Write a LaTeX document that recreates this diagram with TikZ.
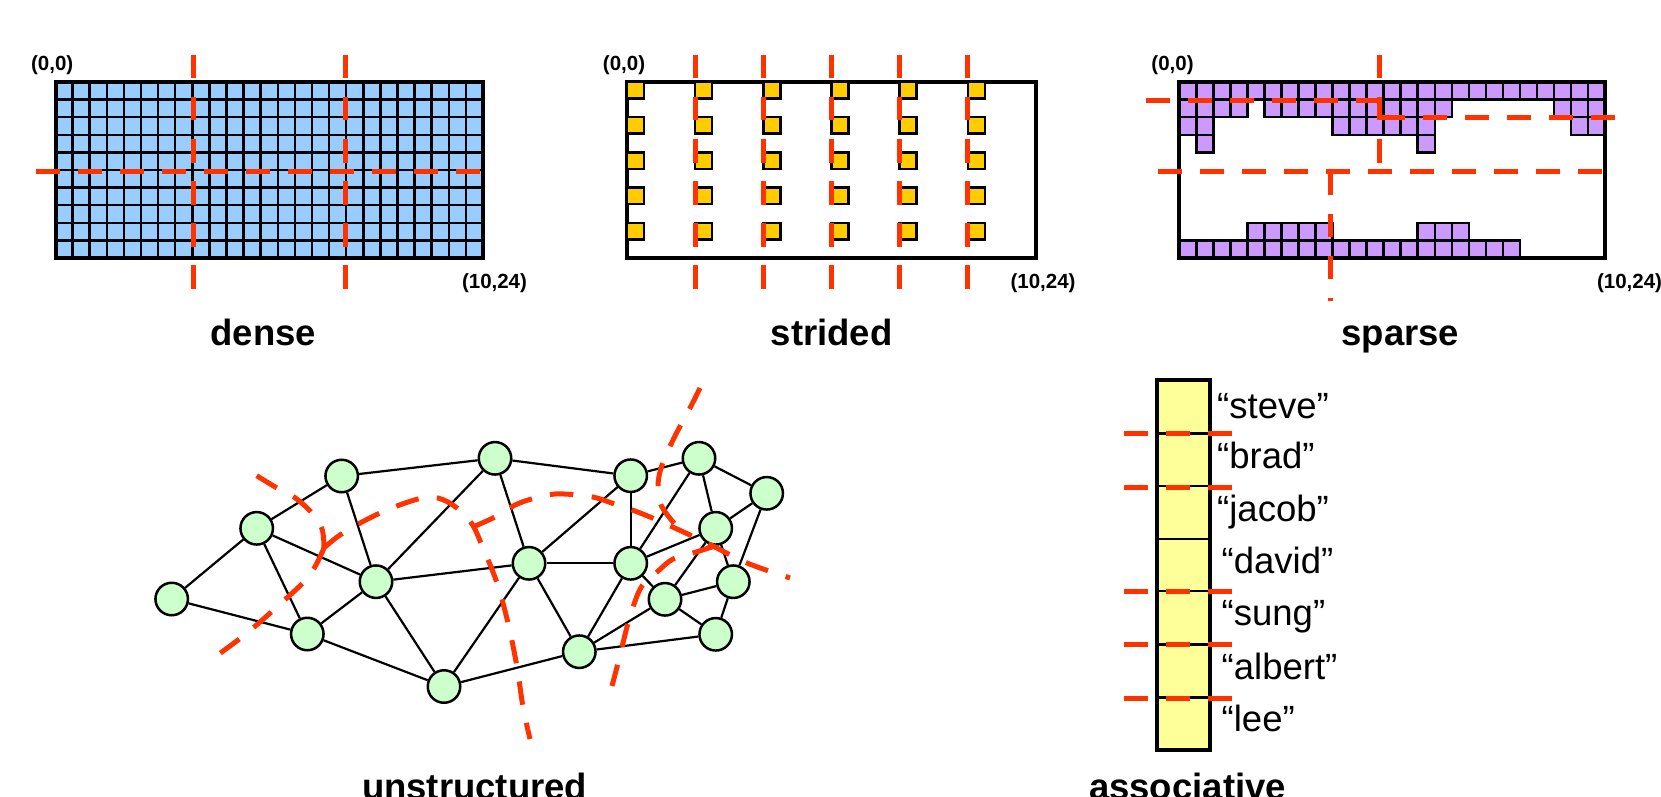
\documentclass[tikz,border=0pt]{standalone}
\usepackage{fontspec}
\setmainfont{Liberation Sans}
\definecolor{cblue}{HTML}{99CCFF}
\definecolor{cgold}{HTML}{FFCC00}
\definecolor{cpurp}{HTML}{CC99FF}
\definecolor{cgreen}{HTML}{CCFFCC}
\definecolor{cyel}{HTML}{FFFF99}
\definecolor{cred}{HTML}{FF3300}
\begin{document}
\begin{tikzpicture}[x=1pt,y=-1pt,
  gridl/.style={draw=black,line width=2.5pt},
  border/.style={draw=black,line width=4pt},
  cellb/.style={draw=black,line width=2.5pt,fill=cgold},
  rdash/.style={draw=cred,line width=5pt,dash pattern=on 23.5pt off 18.5pt},
  gnode/.style={circle,draw=black,line width=2.5pt,fill=cgreen,minimum size=32.5pt,inner sep=0pt},
  gedge/.style={draw=black,line width=2.2pt},
  ttl/.style={font=\fontsize{36.5}{40}\selectfont\bfseries,anchor=base,inner sep=0pt},
  crd/.style={font=\fontsize{20.5}{24}\selectfont\bfseries,anchor=base,inner sep=0pt},
  nm/.style={font=\fontsize{36.5}{40}\selectfont,anchor=base west,inner sep=0pt}]
\useasboundingbox (0,0) rectangle (1661,797);

% ---------------- dense ----------------
\fill[cblue] (55.5,82) rectangle (483,258);
\foreach \i in {1,...,24} \draw[gridl] ({55.5+17.1*\i},82) -- ++(0,176);
\foreach \j in {1,...,9} \draw[gridl] (55.5,{82+17.6*\j}) -- ++(427.5,0);
\draw[border] (55.5,82) rectangle (483,258);
\node[crd] (d00) at (52.2,71) {(0,0)};
\node[crd] (d1024) at (494.5,288) {(10,24)};
\node[ttl] (tdense) at (263.4,345) {dense};

% ---------------- strided ----------------
\draw[border] (627,82) rectangle (1036,258);
\foreach \c in {0,4,...,20} \foreach \r in {0,2,...,8}
  \draw[cellb] ({627+17.04*\c},{82+17.6*\r}) rectangle ++(17,16.5);
\node[crd] (s00) at (624,71) {(0,0)};
\node[crd] (s1024) at (1043,288) {(10,24)};
\node[ttl] (tstrided) at (831.7,345) {strided};

% ---------------- sparse ----------------
\foreach \r/\a/\b in {0/0/24,1/0/3,1/5/15,1/22/24,2/0/1,2/9/14,2/23/24,3/1/1,3/14/14,8/4/8,8/14/16,9/0/19}
  \foreach \c in {\a,...,\b}
    \draw[gridl,fill=cpurp] ({1179.3+17.03*\c},{82+17.6*\r}) rectangle ++(17.03,17.6);
\draw[border] (1179.3,82) rectangle (1605,258);
\node[crd] (p00) at (1172.5,71) {(0,0)};
\node[crd] (p1024) at (1629.5,288) {(10,24)};
\node[ttl] (tsparse) at (1400.4,345) {sparse};

% red partitions, top row
\draw[rdash] (193,55) -- (193,289);
\draw[rdash] (345,55) -- (345,289);
\draw[rdash] (36,171.5) -- (480,171.5);
\foreach \x in {695.2,763.3,831.5,899.7,967.8} \draw[rdash] (\x,55) -- (\x,289);
\draw[rdash] (1379.3,55) -- (1379.3,163);
\draw[rdash] (1146,101) -- (1379.3,101) -- (1379.3,117.7) -- (1619,117.7);
\draw[rdash] (1158.3,171.7) -- (1603,171.7);
\draw[rdash] (1330.7,171.7) -- (1330.7,300.5);

% ---------------- unstructured ----------------
\node[gnode] (A) at (171.7,599) {};
\node[gnode] (B) at (256.7,528.3) {};
\node[gnode] (C) at (341.7,476) {};
\node[gnode] (D) at (495,458.3) {};
\node[gnode] (E) at (630.7,475.7) {};
\node[gnode] (F) at (699,458.3) {};
\node[gnode] (G) at (766.7,493.3) {};
\node[gnode] (H) at (715.7,528.3) {};
\node[gnode] (I) at (733.3,581.7) {};
\node[gnode] (J) at (665,599.3) {};
\node[gnode] (K) at (715.7,634.3) {};
\node[gnode] (L) at (630.7,563.3) {};
\node[gnode] (M) at (529,563.3) {};
\node[gnode] (N) at (579.3,651.7) {};
\node[gnode] (O) at (444,686.5) {};
\node[gnode] (P) at (376,581.7) {};
\node[gnode] (Q) at (307.3,634) {};
\foreach \u/\v in {A/B,A/Q,B/C,B/P,B/Q,C/D,C/P,D/P,D/E,D/M,E/F,E/M,E/L,F/G,F/H,F/L,G/H,G/I,H/L,H/J,H/I,L/M,L/J,L/N,M/N,M/O,M/P,J/I,J/K,I/K,N/J,N/K,N/O,P/Q,P/O,Q/O}
  \draw[gedge] (\u) -- (\v);

\draw[rdash] plot[smooth,tension=0.6] coordinates {(324,548) (309,576) (279,605) (247,633) (219,654)};
\draw[rdash] plot[smooth,tension=0.6] coordinates {(256.7,475.7) (277,488) (294,497) (312,513) (322,529) (324,548)};
\draw[rdash] plot[smooth,tension=0.6] coordinates {(324,548) (343,533) (380,513) (418,499) (438,498) (457,508) (472,524) (483,548) (497,583) (508,623) (517,667) (523,707) (530,739)};
\draw[rdash] plot[smooth,tension=0.6] coordinates {(473,527) (497,516) (515,505) (535,498) (555,494) (577,495) (597,498) (617,505) (635,511) (657,520) (690,535) (713,546) (747,563) (790,578)};
\draw[rdash] plot[smooth,tension=0.6] coordinates {(700,388) (690,408) (675,436) (662,465) (658,487) (662,507) (680,530)};
\draw[rdash] plot[smooth,tension=0.6] coordinates {(715,546) (693,553) (673,559) (657,572) (642,586) (633,607) (627,627) (622,647) (617,667) (612,686)};
\node[ttl] (tunstr) at (474.6,799) {unstructured};

% ---------------- associative ----------------
\fill[cyel] (1157.3,380) rectangle (1210,750);
\foreach \y in {433.3,486,539,591,644.3,697.3} \draw[gridl] (1157.3,\y) -- (1210,\y);
\draw[border] (1157.3,380) rectangle (1210,750);
\node[nm] (n1) at (1217,418.3) {“steve”};
\node[nm] (n2) at (1217,468.3) {“brad”};
\node[nm] (n3) at (1217,521.7) {“jacob”};
\node[nm] (n4) at (1221.5,573.3) {“david”};
\node[nm] (n5) at (1221.5,625) {“sung”};
\node[nm] (n6) at (1221.5,679) {“albert”};
\node[nm] (n7) at (1221.5,731.5) {“lee”};
\foreach \y in {433.3,487,591,644.3,698} \draw[rdash] (1124.3,\y) -- (1233,\y);
\node[ttl] (tassoc) at (1187.5,799) {associative};
\end{tikzpicture}
\end{document}
